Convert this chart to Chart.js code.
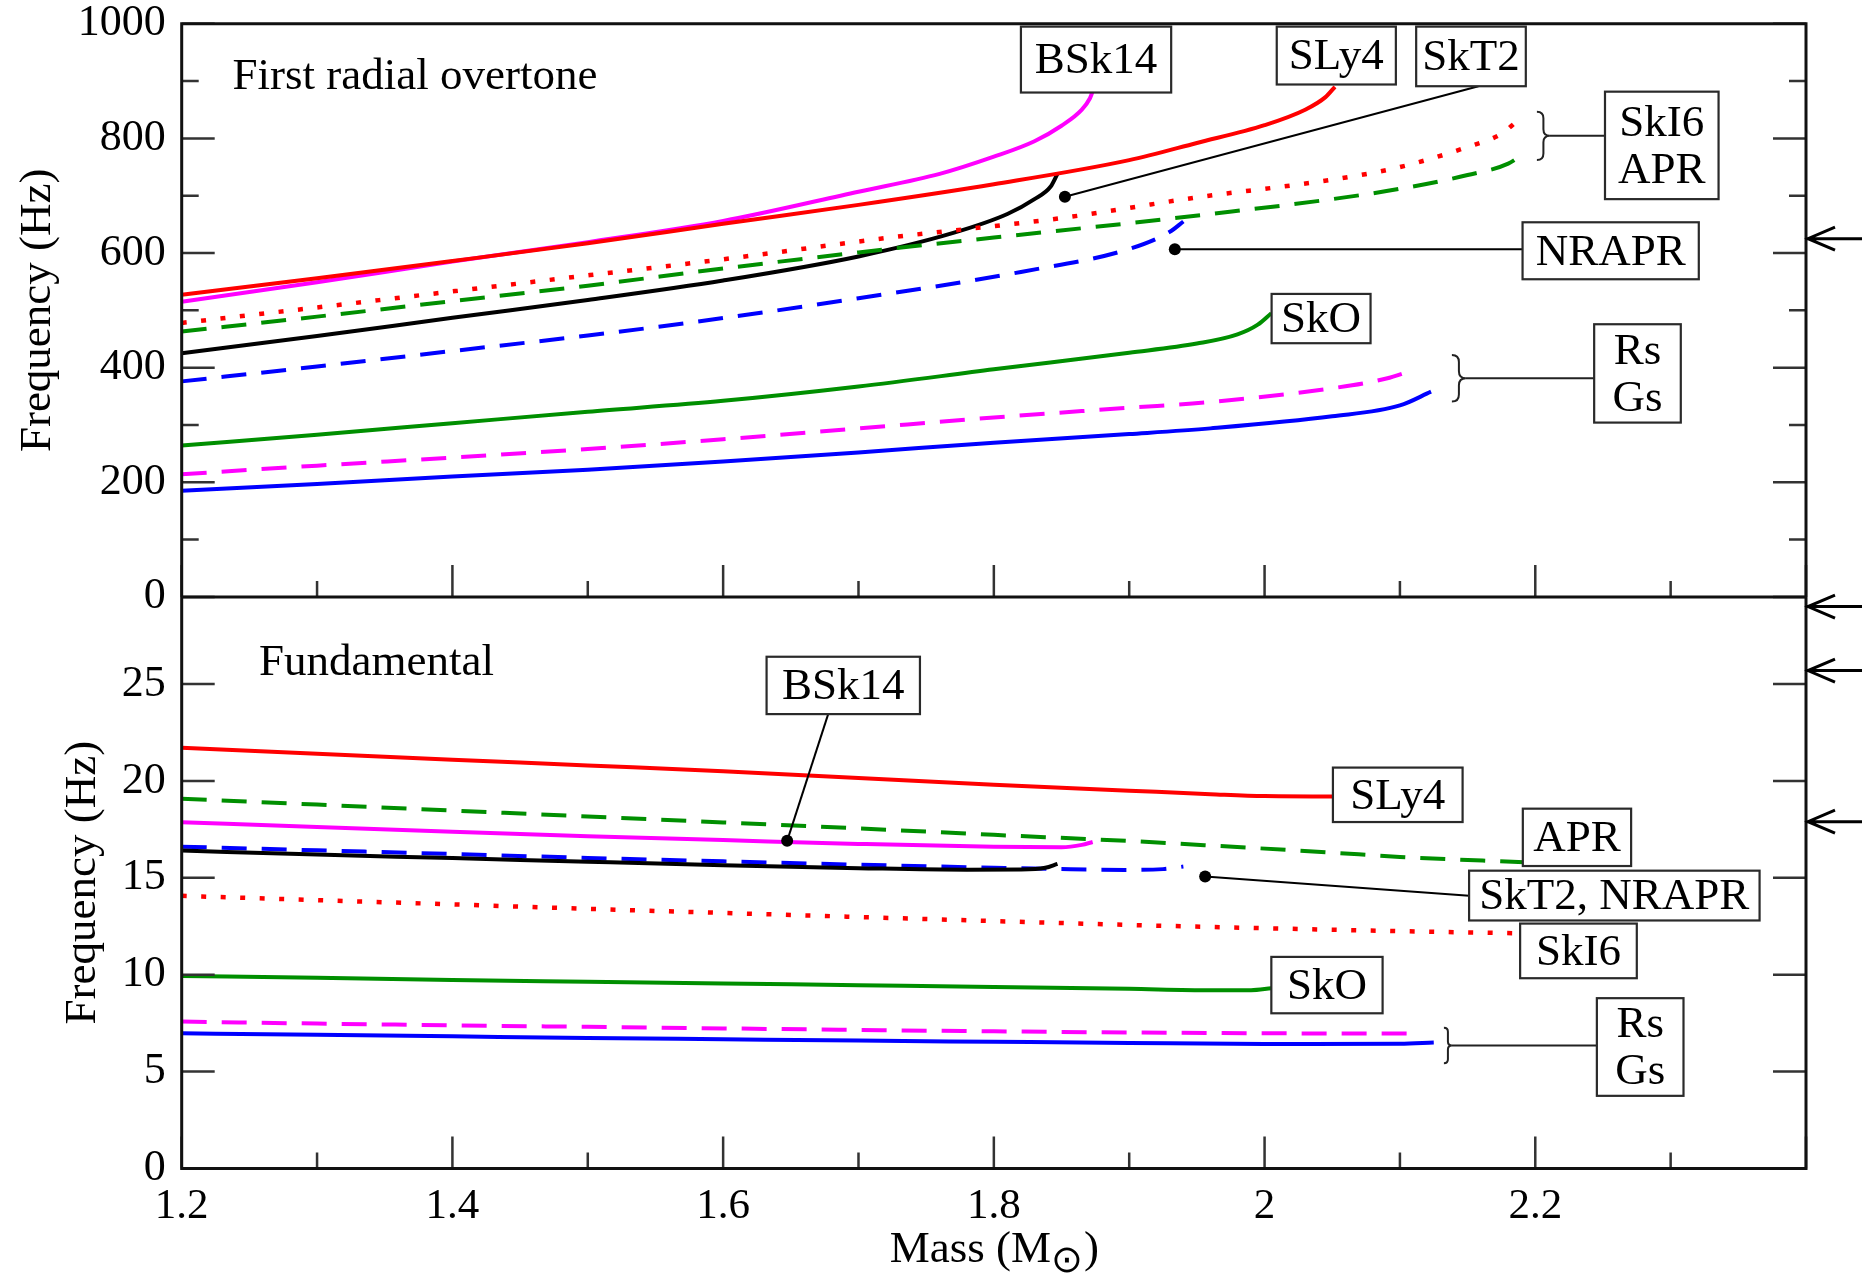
<!DOCTYPE html>
<html>
<head>
<meta charset="utf-8">
<title>Radial oscillation frequencies</title>
<script src="https://cdn.jsdelivr.net/npm/chart.js@4.4.1/dist/chart.umd.min.js"></script>
<style>
  html, body { margin: 0; padding: 0; background: #fff; }
  canvas { display: block; }
</style>
</head>
<body>
<canvas id="freq-chart" width="1862" height="1277" style="width:1862px;height:1277px"></canvas>
<script>
// Axis ticks
const massTicks = [1.2, 1.4, 1.6, 1.8, 2, 2.2];
const overtoneTicks = [0, 200, 400, 600, 800, 1000];
const fundamentalTicks = [0, 5, 10, 15, 20, 25];

// First radial overtone: [mass (Msun), frequency (Hz)]
const overtoneSLy4 = [[1.2, 527], [1.3, 556], [1.4, 586], [1.5, 617], [1.6, 651], [1.7, 684], [1.8, 720], [1.9, 762], [1.95, 792], [2.0, 823], [2.03, 850], [2.045, 872], [2.052, 890]];
const overtoneBSk14 = [[1.2, 515], [1.3, 549], [1.4, 585], [1.5, 619], [1.6, 656], [1.7, 707], [1.76, 738], [1.8, 768], [1.83, 795], [1.85, 822], [1.865, 850], [1.871, 870], [1.873, 882]];
const overtoneSkT2 = [[1.2, 425], [1.3, 455], [1.4, 487], [1.5, 518], [1.6, 552], [1.7, 594], [1.77, 635], [1.81, 668], [1.83, 694], [1.842, 716], [1.847, 738]];
const overtoneSkI6 = [[1.2, 478], [1.3, 505], [1.4, 533], [1.5, 561], [1.6, 589], [1.72, 626], [1.85, 661], [1.95, 697], [2.05, 728], [2.1, 750], [2.15, 785], [2.175, 808], [2.186, 829]];
const overtoneAPR = [[1.2, 463], [1.3, 489], [1.4, 516], [1.5, 543], [1.6, 573], [1.7, 601], [1.8, 627], [1.9, 652], [1.96, 668], [2.05, 694], [2.1, 712], [2.15, 736], [2.18, 756], [2.192, 774]];
const overtoneNRAPR = [[1.2, 376], [1.3, 402], [1.4, 429], [1.5, 456], [1.58, 480], [1.7, 521], [1.82, 567], [1.9, 607], [1.93, 637], [1.94, 655]];
const overtoneSkO = [[1.2, 264], [1.3, 283], [1.4, 303], [1.5, 323], [1.6, 342], [1.7, 367], [1.8, 397], [1.9, 426], [1.95, 442], [1.98, 458], [1.995, 475], [2.005, 495]];
const overtoneRs = [[1.2, 214], [1.3, 229], [1.4, 243], [1.5, 258], [1.6, 275], [1.7, 294], [1.8, 313], [1.9, 330], [1.96, 340], [2.05, 364], [2.09, 381], [2.11, 396]];
const overtoneGs = [[1.2, 185], [1.3, 197], [1.4, 210], [1.5, 222], [1.6, 236], [1.7, 252], [1.8, 269], [1.9, 284], [1.96, 294], [2.05, 315], [2.1, 334], [2.123, 358]];

// Fundamental: [mass (Msun), frequency (Hz)]
const fundamentalSLy4 = [[1.2, 21.72], [1.3, 21.4], [1.4, 21.1], [1.5, 20.8], [1.6, 20.5], [1.7, 20.15], [1.8, 19.8], [1.9, 19.5], [1.96, 19.32], [2.0, 19.22], [2.05, 19.2]];
const fundamentalBSk14 = [[1.2, 17.87], [1.3, 17.62], [1.4, 17.38], [1.5, 17.15], [1.6, 16.95], [1.7, 16.75], [1.8, 16.6], [1.85, 16.58], [1.865, 16.7], [1.873, 16.85]];
const fundamentalSkT2 = [[1.2, 16.41], [1.3, 16.2], [1.4, 16.02], [1.5, 15.83], [1.6, 15.65], [1.7, 15.5], [1.78, 15.42], [1.82, 15.43], [1.838, 15.52], [1.847, 15.72]];
const fundamentalSkI6 = [[1.2, 14.07], [1.3, 13.85], [1.4, 13.63], [1.5, 13.4], [1.6, 13.19], [1.7, 12.98], [1.8, 12.77], [1.9, 12.57], [2.0, 12.4], [2.1, 12.25], [2.187, 12.14]];
const fundamentalAPR = [[1.2, 19.08], [1.3, 18.78], [1.4, 18.47], [1.5, 18.17], [1.6, 17.86], [1.7, 17.55], [1.8, 17.22], [1.9, 16.9], [1.96, 16.67], [2.05, 16.3], [2.1, 16.08], [2.192, 15.8]];
const fundamentalNRAPR = [[1.2, 16.61], [1.3, 16.42], [1.4, 16.23], [1.5, 16.03], [1.6, 15.85], [1.7, 15.68], [1.8, 15.52], [1.85, 15.45], [1.9, 15.41], [1.925, 15.45], [1.94, 15.58]];
const fundamentalSkO = [[1.2, 9.94], [1.3, 9.84], [1.4, 9.73], [1.5, 9.64], [1.6, 9.55], [1.7, 9.46], [1.8, 9.37], [1.9, 9.27], [1.96, 9.2], [1.99, 9.2], [2.005, 9.3]];
const fundamentalRs = [[1.2, 7.58], [1.3, 7.48], [1.4, 7.39], [1.5, 7.31], [1.6, 7.23], [1.7, 7.15], [1.8, 7.08], [1.9, 7.02], [2.0, 6.98], [2.11, 6.96]];
const fundamentalGs = [[1.2, 6.98], [1.3, 6.9], [1.4, 6.82], [1.5, 6.74], [1.6, 6.67], [1.7, 6.6], [1.8, 6.54], [1.9, 6.48], [2.0, 6.43], [2.1, 6.44], [2.125, 6.5]];

// Observed QPO frequencies, marked with arrows on the right axis
const observedOvertone = [625];
const observedFundamental = [17.9, 25.7, 29];

// Styles
const RED = '#ff0000';
const MAGENTA = '#ff00ff';
const GREEN = '#008f00';
const BLUE = '#0000ff';
const BLACK = '#000000';
const SOLID = [];
const DASHED = [25, 15];
const DOTTED = [5, 14.5];

const models = [
  { name: 'SLy4', color: RED, dash: SOLID, overtone: overtoneSLy4, fundamental: fundamentalSLy4 },
  { name: 'BSk14', color: MAGENTA, dash: SOLID, overtone: overtoneBSk14, fundamental: fundamentalBSk14 },
  { name: 'SkI6', color: RED, dash: DOTTED, overtone: overtoneSkI6, fundamental: fundamentalSkI6 },
  { name: 'APR', color: GREEN, dash: DASHED, overtone: overtoneAPR, fundamental: fundamentalAPR },
  { name: 'SkT2', color: BLACK, dash: SOLID, overtone: overtoneSkT2, fundamental: fundamentalSkT2 },
  { name: 'NRAPR', color: BLUE, dash: DASHED, overtone: overtoneNRAPR, fundamental: fundamentalNRAPR },
  { name: 'SkO', color: GREEN, dash: SOLID, overtone: overtoneSkO, fundamental: fundamentalSkO },
  { name: 'Rs', color: MAGENTA, dash: DASHED, overtone: overtoneRs, fundamental: fundamentalRs },
  { name: 'Gs', color: BLUE, dash: SOLID, overtone: overtoneGs, fundamental: fundamentalGs }
];

// Label boxes, placed in data units: box = [mass left, mass right, freq top, freq bottom]
const overtoneLabels = [
  { lines: ['BSk14'], box: [1.820, 1.931, 995, 880] },
  { lines: ['SLy4'], box: [2.009, 2.097, 995, 894] },
  { lines: ['SkT2'], box: [2.112, 2.193, 995, 891], leader: [[2.158, 891], [1.8525, 698]] },
  { lines: ['SkI6', 'APR'], box: [2.2515, 2.3354, 881.5, 694], brace: [2.2012, 846.6, 762.3, 13] },
  { lines: ['NRAPR'], box: [2.1906, 2.3208, 653.6, 554.2], leader: [[2.1906, 606.5], [1.9337, 606.5]] },
  { lines: ['SkO'], box: [2.0052, 2.0783, 528.6, 442.6] },
  { lines: ['Rs', 'Gs'], box: [2.2435, 2.3075, 475.7, 304.1], brace: [2.1384, 422.2, 340.7, 14] }
];
const fundamentalLabels = [
  { lines: ['BSk14'], box: [1.6321, 1.7454, 26.41, 23.45], leader: [[1.6776, 23.45], [1.6473, 16.91]] },
  { lines: ['SLy4'], box: [2.0505, 2.1463, 20.69, 17.88] },
  { lines: ['APR'], box: [2.1908, 2.2708, 18.57, 15.61] },
  { lines: ['SkI6'], box: [2.1888, 2.2750, 12.64, 9.82] },
  { lines: ['SkT2, NRAPR'], box: [2.1511, 2.3657, 15.37, 12.80], leader: [[2.1511, 14.07], [1.9561, 15.07]] },
  { lines: ['SkO'], box: [2.005, 2.0872, 10.92, 8.01] },
  { lines: ['Rs', 'Gs'], box: [2.2455, 2.3095, 8.79, 3.75], brace: [2.1325, 7.27, 5.43, 8] }
];

const FONT = "'Liberation Serif', 'Times New Roman', serif";
Chart.defaults.font.family = FONT;
Chart.defaults.color = '#000';

// Build datasets: every model has one curve per panel
const datasets = [];
models.forEach(model => {
  [['overtone', 'yTop'], ['fundamental', 'yBot']].forEach(([key, axis]) => {
    datasets.push({
      label: model.name,
      data: model[key].map(([m, f]) => ({ x: m, y: f })),
      yAxisID: axis,
      borderColor: model.color,
      borderWidth: model.dash === DOTTED ? 4.5 : 4,
      borderDash: model.dash,
      pointRadius: 0,
      fill: false,
      cubicInterpolationMode: 'monotone'
    });
  });
});

function drawBrace(ctx, x, yTop, yBottom, w) {
  const ym = (yTop + yBottom) / 2;
  const r = w / 2;
  ctx.beginPath();
  ctx.moveTo(x, yTop);
  ctx.quadraticCurveTo(x + r, yTop, x + r, yTop + r);
  ctx.lineTo(x + r, ym - r);
  ctx.quadraticCurveTo(x + r, ym, x + w, ym);
  ctx.quadraticCurveTo(x + r, ym, x + r, ym + r);
  ctx.lineTo(x + r, yBottom - r);
  ctx.quadraticCurveTo(x + r, yBottom, x, yBottom);
  ctx.stroke();
}

function drawLabels(ctx, labels, xs, ys) {
  labels.forEach(lab => {
    const [m1, m2, f1, f2] = lab.box;
    const bx = xs.getPixelForValue(m1), bx2 = xs.getPixelForValue(m2);
    const by = ys.getPixelForValue(f1), by2 = ys.getPixelForValue(f2);

    ctx.strokeStyle = '#000';
    ctx.lineWidth = 2;
    if (lab.leader) {
      const [[am, af], [dm, df]] = lab.leader;
      const ax = xs.getPixelForValue(am), ay = ys.getPixelForValue(af);
      const dx = xs.getPixelForValue(dm), dy = ys.getPixelForValue(df);
      ctx.beginPath();
      ctx.moveTo(ax, ay);
      ctx.lineTo(dx, dy);
      ctx.stroke();
      ctx.fillStyle = '#000';
      ctx.beginPath();
      ctx.arc(dx, dy, 6, 0, Math.PI * 2);
      ctx.fill();
    }
    if (lab.brace) {
      const [bm, bf1, bf2, w] = lab.brace;
      const x0 = xs.getPixelForValue(bm);
      const y1 = ys.getPixelForValue(bf1), y2 = ys.getPixelForValue(bf2);
      ctx.strokeStyle = '#222';
      drawBrace(ctx, x0, y1, y2, w);
      const ym = (y1 + y2) / 2;
      ctx.beginPath();
      ctx.moveTo(x0 + w, ym);
      ctx.lineTo(bx, ym);
      ctx.stroke();
    }

    ctx.fillStyle = '#fff';
    ctx.fillRect(bx, by, bx2 - bx, by2 - by);
    ctx.strokeStyle = '#2a2a2a';
    ctx.lineWidth = 2.2;
    ctx.strokeRect(bx, by, bx2 - bx, by2 - by);

    ctx.fillStyle = '#000';
    ctx.font = '45px ' + FONT;
    ctx.textAlign = 'center';
    ctx.textBaseline = 'middle';
    const cx = (bx + bx2) / 2, cy = (by + by2) / 2;
    const n = lab.lines.length;
    lab.lines.forEach((t, i) => {
      ctx.fillText(t, cx, cy + (i - (n - 1) / 2) * 47 + 2);
    });
  });
}

// Frame, inward ticks, arrows, labels and titles
const framePlugin = {
  id: 'frame',
  afterDatasetsDraw(chart) {
    const ctx = chart.ctx;
    const { left, right, top, bottom } = chart.chartArea;
    const xs = chart.scales.x, yt = chart.scales.yTop, yb = chart.scales.yBot;
    const mid = yt.getPixelForValue(0);

    ctx.save();
    ctx.lineCap = 'butt';

    // tick marks
    ctx.strokeStyle = '#333';
    ctx.lineWidth = 2.5;
    ctx.beginPath();
    for (let i = 0; i <= 12; i++) {
      const px = xs.getPixelForValue(1.2 + i * 0.1);
      const len = i % 2 === 0 ? 32 : 16;
      ctx.moveTo(px, mid); ctx.lineTo(px, mid - len);
      ctx.moveTo(px, bottom); ctx.lineTo(px, bottom - len);
    }
    for (let v = 0; v <= 1000; v += 100) {
      const py = yt.getPixelForValue(v);
      const len = v % 200 === 0 ? 33 : 17;
      ctx.moveTo(left, py); ctx.lineTo(left + len, py);
      ctx.moveTo(right, py); ctx.lineTo(right - len, py);
    }
    for (let v = 0; v <= 25; v += 5) {
      const py = yb.getPixelForValue(v);
      ctx.moveTo(left, py); ctx.lineTo(left + 33, py);
      ctx.moveTo(right, py); ctx.lineTo(right - 33, py);
    }
    ctx.stroke();

    // frame and panel divider
    ctx.strokeStyle = '#111';
    ctx.lineWidth = 3;
    ctx.strokeRect(left, top, right - left, bottom - top);
    ctx.beginPath();
    ctx.moveTo(left, mid);
    ctx.lineTo(right, mid);
    ctx.stroke();

    // arrows for the observed frequencies
    const arrowAt = py => {
      ctx.beginPath();
      ctx.moveTo(chart.width, py); ctx.lineTo(right + 1, py);
      ctx.moveTo(right + 29, py - 11.5); ctx.lineTo(right + 2, py); ctx.lineTo(right + 29, py + 11.5);
      ctx.stroke();
    };
    ctx.strokeStyle = '#000';
    ctx.lineWidth = 3;
    observedOvertone.forEach(v => arrowAt(yt.getPixelForValue(v)));
    observedFundamental.forEach(v => arrowAt(yb.getPixelForValue(v)));

    // model labels
    drawLabels(ctx, overtoneLabels, xs, yt);
    drawLabels(ctx, fundamentalLabels, xs, yb);

    // panel titles
    ctx.fillStyle = '#000';
    ctx.font = '45px ' + FONT;
    ctx.textAlign = 'left';
    ctx.textBaseline = 'alphabetic';
    ctx.fillText('First radial overtone', xs.getPixelForValue(1.2375), yt.getPixelForValue(886));
    ctx.fillText('Fundamental', xs.getPixelForValue(1.2571), yb.getPixelForValue(25.49));

    // y axis titles
    ctx.textAlign = 'center';
    [[yt, 49.5], [yb, 95]].forEach(([scale, bx]) => {
      ctx.save();
      ctx.translate(bx, (scale.top + scale.bottom) / 2);
      ctx.rotate(-Math.PI / 2);
      ctx.fillText('Frequency (Hz)', 0, 0);
      ctx.restore();
    });

    // x axis title with the solar-mass subscript
    const main = 'Mass (M', sub = '\u2299', close = ')';
    ctx.font = '45px ' + FONT;
    const w1 = ctx.measureText(main).width;
    const w3 = ctx.measureText(close).width;
    ctx.font = '38px ' + FONT;
    const w2 = ctx.measureText(sub).width;
    const tx = (left + right) / 2 - (w1 + w2 + w3) / 2;
    const base = 1262;
    ctx.textAlign = 'left';
    ctx.font = '45px ' + FONT;
    ctx.fillText(main, tx, base);
    ctx.font = '38px ' + FONT;
    ctx.fillText(sub, tx + w1, base + 10);
    ctx.font = '45px ' + FONT;
    ctx.fillText(close, tx + w1 + w2 + 1, base);

    ctx.restore();
  }
};

// Fixed axis sizes, no extra label padding around the plot area
function fixWidth(s) {
  s.width = 181.7;
  s.paddingTop = 0;
  s.paddingBottom = 0;
}
function fixHeight(s) {
  s.height = 108.5;
  s.paddingLeft = 0;
  s.paddingRight = 0;
}

const ctx = document.getElementById('freq-chart').getContext('2d');
const chart = new Chart(ctx, {
  type: 'line',
  data: { datasets },
  options: {
    responsive: false,
    animation: false,
    devicePixelRatio: 1,
    layout: { padding: { left: 0, right: 56, top: 23.75, bottom: 0 } },
    plugins: { legend: { display: false }, tooltip: { enabled: false } },
    scales: {
      x: {
        type: 'linear',
        min: 1.2,
        max: 2.4,
        afterFit: fixHeight,
        afterBuildTicks: s => { s.ticks = massTicks.map(value => ({ value })); },
        grid: { display: false, drawTicks: false },
        border: { display: false },
        ticks: { padding: 12, autoSkip: false, maxRotation: 0, font: { size: 43 }, callback: v => String(v) }
      },
      yTop: {
        type: 'linear',
        position: 'left',
        stack: 'freq',
        stackWeight: 573,
        weight: 1,
        min: 0,
        max: 1000,
        afterFit: fixWidth,
        afterBuildTicks: s => { s.ticks = overtoneTicks.map(value => ({ value })); },
        grid: { display: false, drawTicks: false },
        border: { display: false },
        ticks: { padding: 16, autoSkip: false, font: { size: 44 }, callback: v => String(v) }
      },
      yBot: {
        type: 'linear',
        position: 'left',
        stack: 'freq',
        stackWeight: 571.5,
        weight: 0,
        min: 0,
        max: 29.5,
        afterFit: fixWidth,
        afterBuildTicks: s => { s.ticks = fundamentalTicks.map(value => ({ value })); },
        grid: { display: false, drawTicks: false },
        border: { display: false },
        ticks: { padding: 16, autoSkip: false, font: { size: 44 }, callback: v => String(v) }
      }
    }
  },
  plugins: [framePlugin]
});
</script>
</body>
</html>
